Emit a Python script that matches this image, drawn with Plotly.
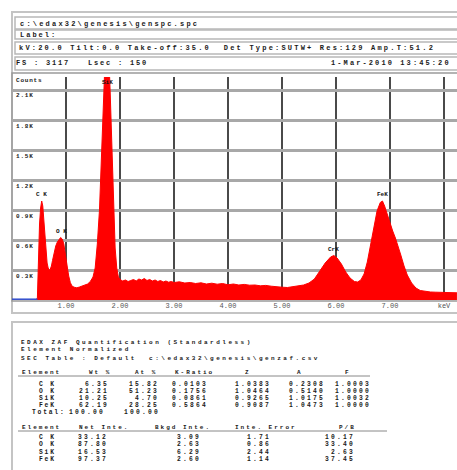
import plotly.graph_objects as go

W, H = 457, 470

# ---------------- data ----------------
energy_kev = [0.00, 0.44, 0.47, 0.49, 0.51, 0.53, 0.55, 0.57, 0.59, 0.61, 0.63, 0.65, 0.67, 0.69,
              0.71, 0.73, 0.75, 0.78, 0.81, 0.84, 0.87, 0.90, 0.93, 0.96, 0.99, 1.02, 1.05, 1.08,
              1.11, 1.15, 1.20, 1.25, 1.30, 1.35, 1.40, 1.45, 1.50, 1.54, 1.58, 1.62, 1.66, 1.70,
              1.73, 1.76, 1.79, 1.82, 1.85, 1.88, 1.91, 1.94, 1.97, 2.00, 2.05, 2.10, 2.15, 2.20,
              2.25, 2.30, 2.35, 2.40, 2.45, 2.50, 2.55, 2.60, 2.65, 2.70, 2.75, 2.80, 2.85, 2.90,
              2.95, 3.00, 3.10, 3.20, 3.30, 3.40, 3.50, 3.60, 3.70, 3.80, 3.90, 4.00, 4.10, 4.20,
              4.30, 4.40, 4.50, 4.60, 4.70, 4.80, 4.90, 5.00, 5.10, 5.20, 5.30, 5.40, 5.50, 5.60,
              5.70, 5.80, 5.90, 5.96, 6.02, 6.10, 6.18, 6.26, 6.34, 6.40, 6.46, 6.52, 6.58, 6.64,
              6.70, 6.76, 6.82, 6.86, 6.90, 6.95, 7.00, 7.05, 7.10, 7.15, 7.20, 7.26, 7.32, 7.40,
              7.48, 7.56, 7.65, 7.75, 7.85, 8.00, 8.24]
counts = [0, 0, 20, 420, 760, 920, 990, 940, 780, 590, 450, 370, 320, 300,
          310, 340, 395, 470, 540, 580, 605, 625, 610, 560, 450, 330, 240, 175,
          140, 128, 122, 130, 140, 150, 160, 185, 230, 320, 560, 900, 1450, 2100,
          2500, 2650, 2500, 2050, 1450, 900, 520, 320, 230, 205, 190, 200, 185, 195,
          205, 190, 210, 200, 215, 195, 205, 190, 200, 185, 195, 180, 190, 178,
          185, 175, 182, 170, 175, 165, 172, 160, 168, 158, 165, 152, 160, 150,
          156, 148, 150, 142, 146, 138, 130, 128, 125, 132, 140, 150, 170, 210,
          290, 370, 430, 445, 420, 360, 280, 220, 185, 180, 200, 260, 380, 550,
          740, 890, 975, 990, 940, 850, 760, 690, 620, 540, 450, 340, 250, 170,
          120, 95, 85, 80, 78, 75, 72]

x_tick_vals = [1, 2, 3, 4, 5, 6, 7, 8]
x_tick_text = ["1.00", "2.00", "3.00", "4.00", "5.00", "6.00", "7.00", "keV"]
y_grid_vals = [300, 600, 900, 1200, 1500, 1800, 2100]
y_tick_text = ["0.3K", "0.6K", "0.9K", "1.2K", "1.5K", "1.8K", "2.1K"]

peak_labels = ["C K", "O K", "SiK", "CrK", "FeK"]
peak_energy = [0.55, 0.92, 1.76, 5.96, 6.86]
peak_counts = [990, 625, 2230, 445, 990]

header_file = "c:\\edax32\\genesis\\genspc.spc"
header_label = "Label:"
header_cond = "kV:20.0 Tilt:0.0 Take-off:35.0  Det Type:SUTW+ Res:129 Amp.T:51.2"
header_fs = "FS : 3117   Lsec : 150"
header_date = "1-Mar-2010 13:45:20"

quant_title = ["EDAX ZAF Quantification (Standardless)",
               "Element Normalized",
               "SEC Table : Default  c:\\edax32\\genesis\\genzaf.csv"]

t1_headers = ["Element", "Wt %", "At %", "K-Ratio", "Z", "A", "F"]
elements = ["C K", "O K", "SiK", "FeK"]
wt_pct = ["6.35", "21.21", "10.25", "62.19"]
at_pct = ["15.82", "51.23", "4.70", "28.25"]
k_ratio = ["0.0103", "0.1756", "0.0861", "0.5864"]
z_corr = ["1.0383", "1.0464", "0.9265", "0.9087"]
a_corr = ["0.2308", "0.5140", "1.0175", "1.0473"]
f_corr = ["1.0003", "1.0000", "1.0032", "1.0000"]
total_row = ["Total:", "100.00", "100.00"]

t2_headers = ["Element", "Net Inte.", "Bkgd Inte.", "Inte. Error", "P/B"]
net_inte = ["33.12", "87.80", "16.53", "97.37"]
bkgd_inte = ["3.09", "2.63", "6.29", "2.60"]
inte_err = ["1.71", "0.86", "2.44", "1.14"]
p_b = ["10.17", "33.40", "2.63", "37.45"]

# ---------------- helpers ----------------
def px(x):
    return x / W

def py(y):
    return 1 - y / H

MONO = "Liberation Mono"
TXT = "#1a1a1a"

PLOT_L, PLOT_R, PLOT_T, PLOT_B = 12, 457, 77, 300
X_MAX = (PLOT_R - PLOT_L) / 54.0
Y_MAX = 2230

fig = go.Figure()
fig.add_trace(go.Scatter(
    x=energy_kev, y=counts, mode="lines",
    line=dict(color="#ff0000", width=1),
    fill="tozeroy", fillcolor="#ff0000",
    hoverinfo="skip", showlegend=False))

shapes = []
annotations = []

def rect(x0, y0, x1, y1, color="#b8b8b8", width=1.5):
    shapes.append(dict(type="rect", xref="paper", yref="paper",
                       x0=px(x0), x1=px(x1), y0=py(y1), y1=py(y0),
                       line=dict(color=color, width=width),
                       fillcolor="rgba(0,0,0,0)", layer="below"))

def hline(x0, x1, y, color="#555", width=1):
    shapes.append(dict(type="line", xref="paper", yref="paper",
                       x0=px(x0), x1=px(x1), y0=py(y), y1=py(y),
                       line=dict(color=color, width=width)))

def text(x, y, s, size=8, anchor="left", bold=True, color=TXT, spacing=1.4):
    s = s.replace(" ", "&nbsp;")
    inner = "<span style='letter-spacing:%.1fpx'>%s</span>" % (spacing, s)
    annotations.append(dict(xref="paper", yref="paper", x=px(x), y=py(y),
                            text=("<b>%s</b>" % inner) if bold else inner,
                            showarrow=False, xanchor=anchor, yanchor="middle",
                            font=dict(family=MONO, size=size, color=color)))

# ---- top panel frame & header rows ----
rect(12, 12, 459, 313, color="#c4c4c4", width=2)
rect(15, 17, 459, 29)
rect(15, 30, 459, 39)
rect(15, 42, 459, 54)
rect(15, 57, 459, 70)
text(18, 23.5, header_file, size=7, spacing=2.2)
text(18, 34.5, header_label, size=7, spacing=2.0)
text(17, 48, header_cond, size=7, spacing=2.2)
text(14, 63.5, header_fs, size=7, spacing=1.8)
text(453, 63.5, header_date, size=7, anchor="right", spacing=2.1)

# plot frame
rect(PLOT_L, PLOT_T - 4, 459, PLOT_B + 1, color="#9a9a9a", width=1.5)
text(14, 80, "Counts", size=6, spacing=0.8)

# y labels (inside plot, just below each gridline)
for v, t in zip(y_grid_vals, y_tick_text):
    ypix = PLOT_B - (v / Y_MAX) * (PLOT_B - PLOT_T)
    text(14, ypix + 6, t, size=6, spacing=0.8)

# blue base line before spectrum starts
shapes.append(dict(type="line", xref="x", yref="y", x0=0, x1=0.47, y0=8, y1=8,
                   line=dict(color="#3050d0", width=1.5)))

# peak labels
for lab, e, c in zip(peak_labels, peak_energy, peak_counts):
    annotations.append(dict(xref="x", yref="y", x=e, y=c, text="<b>%s</b>" % lab,
                            showarrow=False, xanchor="center",
                            yanchor="top" if c >= Y_MAX else "bottom",
                            yshift=0 if c >= Y_MAX else 1,
                            font=dict(family=MONO, size=6, color="#111")))

# ---- bottom panel ----
rect(12, 322, 459, 472, color="#c4c4c4", width=2)
for i, (s, y) in enumerate(zip(quant_title, [342, 349.5, 358])):
    text(19, y, s, size=6, spacing=2.5)

t1_hx = [20, 87, 133, 173, 243, 295, 343]
for s, x in zip(t1_headers, t1_hx):
    text(x, 372, s, size=6, spacing=2.0)
hline(18, 370, 376, color="#888", width=1)

row_y1 = [384, 391, 398, 405]
RS = 6.3
SP = 2.2
for i, y in enumerate(row_y1):
    text(47, y, elements[i], size=RS, anchor="center", spacing=1.8)
    text(111, y, wt_pct[i], size=RS, anchor="right", spacing=SP)
    text(161, y, at_pct[i], size=RS, anchor="right", spacing=SP)
    text(210, y, k_ratio[i], size=RS, anchor="right", spacing=SP)
    text(273, y, z_corr[i], size=RS, anchor="right", spacing=SP)
    text(327, y, a_corr[i], size=RS, anchor="right", spacing=SP)
    text(373, y, f_corr[i], size=RS, anchor="right", spacing=SP)
text(30, 412, total_row[0], size=RS, spacing=1.8)
text(107, 412, total_row[1], size=RS, anchor="right", spacing=SP)
text(162, 412, total_row[2], size=RS, anchor="right", spacing=SP)

t2_hx = [20, 77, 153, 233, 337]
for s, x in zip(t2_headers, t2_hx):
    text(x, 427, s, size=6, spacing=2.0)
hline(18, 387, 431, color="#888", width=1)

row_y2 = [437, 444.5, 452, 459.5]
for i, y in enumerate(row_y2):
    text(47, y, elements[i], size=RS, anchor="center", spacing=1.8)
    text(110, y, net_inte[i], size=RS, anchor="right", spacing=SP)
    text(203, y, bkgd_inte[i], size=RS, anchor="right", spacing=SP)
    text(273, y, inte_err[i], size=RS, anchor="right", spacing=SP)
    text(357, y, p_b[i], size=RS, anchor="right", spacing=SP)

fig.update_layout(
    width=W, height=H, autosize=False,
    margin=dict(l=0, r=0, t=0, b=0),
    paper_bgcolor="white", plot_bgcolor="white",
    showlegend=False,
    shapes=shapes, annotations=annotations,
    xaxis=dict(domain=[px(PLOT_L), px(PLOT_R)], range=[0, X_MAX],
               tickvals=x_tick_vals, ticktext=x_tick_text,
               showgrid=True, gridcolor="#4a4a4a", gridwidth=1.5,
               zeroline=False, showline=False, ticks="",
               tickfont=dict(family=MONO, size=7, color="#555"),
               fixedrange=True),
    yaxis=dict(domain=[py(PLOT_B), py(PLOT_T)], range=[0, Y_MAX],
               tickvals=y_grid_vals, showticklabels=False,
               showgrid=True, gridcolor="#a8a8a8", gridwidth=2.5,
               zeroline=False, showline=False, ticks="",
               fixedrange=True),
)

fig.write_html("out.html", config={"displayModeBar": False},
               post_script="document.body.style.margin='0';document.body.style.overflow='hidden';")
